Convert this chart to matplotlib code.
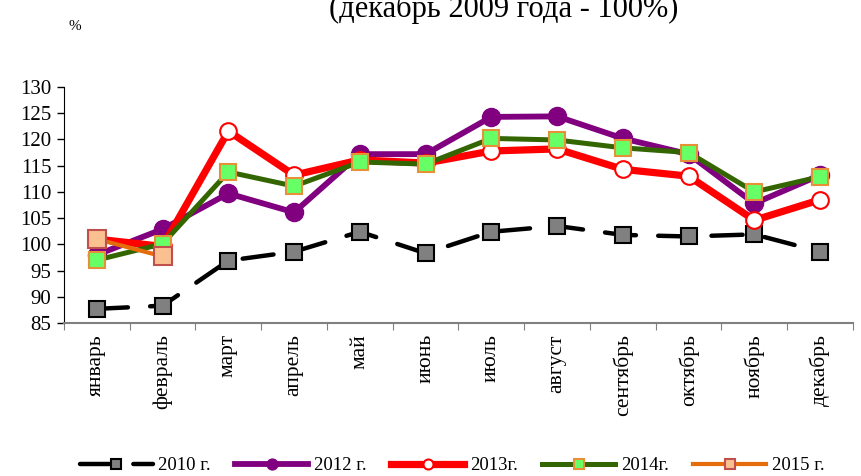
import matplotlib.pyplot as plt
import numpy as np

plt.rcParams['font.family'] = ['Liberation Serif', 'DejaVu Serif']

months = ["январь", "февраль", "март", "апрель", "май", "июнь",
          "июль", "август", "сентябрь", "октябрь", "ноябрь", "декабрь"]
y2010 = [87.7, 88.3, 96.9, 98.6, 102.4, 98.3, 102.4, 103.5, 101.8, 101.5, 101.9, 98.6]
y2012 = [98.0, 102.9, 109.7, 106.1, 117.2, 117.2, 124.3, 124.4, 120.2, 117.2, 107.8, 113.2]
y2013 = [101.0, 99.6, 121.6, 113.2, 116.1, 115.5, 117.8, 118.2, 114.3, 113.0, 104.6, 108.5]
y2014 = [97.0, 100.1, 113.8, 111.1, 115.7, 115.3, 120.2, 119.9, 118.4, 117.5, 110.0, 112.9]
y2015 = [101.0, 97.7]

x = np.arange(len(months))

fig = plt.figure(figsize=(8.61, 4.76), dpi=100)
ax = fig.add_axes([0.0743, 0.3214, 0.9164, 0.4958])

ax.plot(x, y2010, color='black', lw=3.2, dashes=(7, 5), dash_capstyle='round',
        marker='s', ms=12, mfc='#808080', mec='black', mew=1.5, label='2010 г.', zorder=2)
ax.plot(x, y2012, color='#800080', lw=4.2, marker='o', ms=13,
        mfc='#800080', mec='#800080', label='2012 г.', zorder=3)
ax.plot(x, y2013, color='#FF0000', lw=5.2, marker='o', ms=12,
        mfc='white', mec='#FF0000', mew=1.5, label='2013г.', zorder=4)
ax.plot(x, y2014, color='#336600', lw=3.6, marker='s', ms=12,
        mfc='#66FF66', mec='#E69138', mew=1.5, label='2014г.', zorder=5)
ax.plot(x[:len(y2015)], y2015, color='#E46C0A', lw=3.0, marker='s', ms=13,
        mfc='#FAC090', mec='#C0504D', mew=1.5, label='2015 г.', zorder=6)

ax.set_xlim(-0.5, 11.5)
ax.set_ylim(85, 130)
ax.set_yticks(np.arange(85, 131, 5))
ax.tick_params(axis='y', labelsize=15, direction='out', length=5, width=1, pad=4)

ax.set_xticks(np.arange(-0.5, 12, 1))
ax.set_xticklabels([])
ax.set_xticks(x, minor=True)
ax.set_xticklabels(months, minor=True, rotation=90, fontsize=15.5, va='top')
ax.tick_params(axis='x', which='major', direction='out', length=5, color='#808080')
ax.tick_params(axis='x', which='minor', length=0, pad=8)

for side in ['top', 'right']:
    ax.spines[side].set_visible(False)
ax.spines['bottom'].set_color('#808080')
ax.spines['bottom'].set_linewidth(1.5)
ax.spines['left'].set_color('black')

fig.text(0.585, 0.965, "(декабрь 2009 года - 100%)", fontsize=22,
         ha='center', va='baseline')
fig.text(0.087, 0.945, "%", fontsize=11, ha='center', va='center')

fig.legend(loc='center', bbox_to_anchor=(0.525, 0.022), ncol=5, frameon=False,
           fontsize=13.5, handlelength=3.9, markerscale=0.6,
           columnspacing=1.3, handletextpad=0.3)

fig.savefig('out.png', dpi=100)
